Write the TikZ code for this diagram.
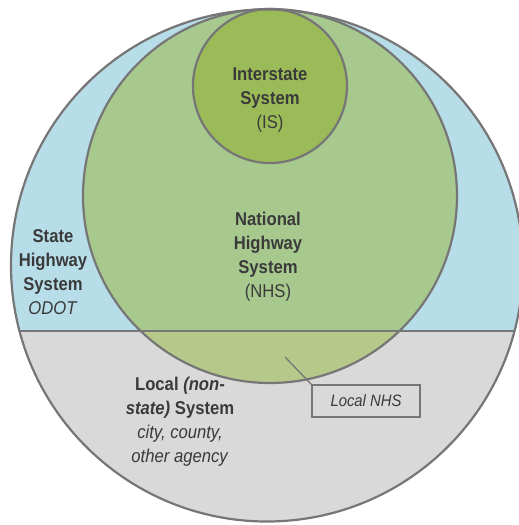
\documentclass[tikz,border=0pt]{standalone}
\usepackage{fontspec}
\setmainfont[FakeStretch=0.9]{Liberation Sans}
\usetikzlibrary{positioning}
\definecolor{statefill}{HTML}{B7DDE8}
\definecolor{localfill}{HTML}{D9D9D9}
\definecolor{nhsfill}{HTML}{A7C98E}
\definecolor{localnhsfill}{HTML}{B6C98B}
\definecolor{isfill}{HTML}{9BBB59}
\definecolor{rimgray}{HTML}{767676}
\definecolor{txtgray}{HTML}{3A3A3A}

\begin{document}
\begin{tikzpicture}[x=1pt,y=-1pt,
    rim/.style={draw=rimgray,line width=2.2pt},
    label/.style={align=center,text=txtgray,inner sep=0pt,
      font=\fontsize{18.5}{24}\selectfont},
    tag/.style={draw=rimgray,line width=1.3pt,fill=localfill,text=txtgray,
      minimum width=108pt,minimum height=32pt,inner sep=0pt,
      font=\fontsize{16.5}{20}\selectfont\itshape}]
    \useasboundingbox (0,0) rectangle (519,525);
    \begin{scope}
      \clip (267,265.5) circle (256);
      \fill[statefill] (0,0) rectangle (530,331);
      \fill[localfill] (0,331) rectangle (530,530);
      \fill[nhsfill] (270,196) circle (187);
      \clip (0,331) rectangle (530,530);
      \fill[localnhsfill] (270,196) circle (187);
    \end{scope}
    \begin{scope}
      \clip (267,265.5) circle (256);
      \draw[rim] (0,331) -- (530,331);
    \end{scope}
    \draw[rim] (270,196) circle (187);
    \draw[rim,fill=isfill] (270,86) circle (77);
    \draw[rim] (267,265.5) circle (256);

    \node[label] (is) at (270,100) {\textbf{Interstate}\\\textbf{System}\\(IS)};
    \node[label] (nhs) at (268,257) {\textbf{National}\\\textbf{Highway}\\\textbf{System}\\(NHS)};
    \node[label] (shs) at (53,272) {\textbf{State}\\\textbf{Highway}\\\textbf{System}\\\textit{ODOT}};
    \node[label] (local) at (180,422) {\textbf{Local \textit{(non-}}\\\textbf{\textit{state)} System}\\\textit{city, county,}\\\textit{other agency}};
    \node[tag] (localnhs) at (366,401) {Local NHS};
    \coordinate (pin) at (285,357);
    \draw[rimgray,line width=1.3pt] (pin) -- (localnhs.north west);
\end{tikzpicture}
\end{document}
